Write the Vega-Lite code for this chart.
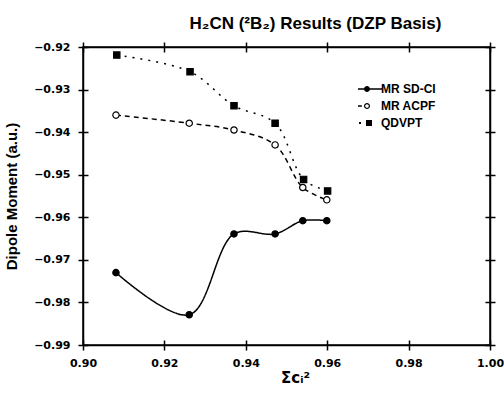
{
  "$schema": "https://vega.github.io/schema/vega-lite/v6.json",
  "width": 407,
  "height": 298,
  "autosize": "none",
  "padding": {"left": 83, "top": 47, "right": 14, "bottom": 48},
  "background": "white",
  "title": {
    "text": "H₂CN (²B₂) Results (DZP Basis)",
    "font": "Liberation Sans",
    "fontSize": 17,
    "fontWeight": "bold",
    "color": "black",
    "offset": 8,
    "dx": 29
  },
  "data": {
    "values": [
      {"s": "MR  SD-CI", "x": 0.9081, "y": -0.9730},
      {"s": "MR  SD-CI", "x": 0.9261, "y": -0.9829},
      {"s": "MR  SD-CI", "x": 0.9371, "y": -0.9639},
      {"s": "MR  SD-CI", "x": 0.9472, "y": -0.9639},
      {"s": "MR  SD-CI", "x": 0.9540, "y": -0.9608},
      {"s": "MR  SD-CI", "x": 0.9599, "y": -0.9608},
      {"s": "MR ACPF", "x": 0.9081, "y": -0.9360},
      {"s": "MR ACPF", "x": 0.9261, "y": -0.9379},
      {"s": "MR ACPF", "x": 0.9371, "y": -0.9395},
      {"s": "MR ACPF", "x": 0.9472, "y": -0.9430},
      {"s": "MR ACPF", "x": 0.9540, "y": -0.9530},
      {"s": "MR ACPF", "x": 0.9599, "y": -0.9559},
      {"s": "QDVPT", "x": 0.9083, "y": -0.9219},
      {"s": "QDVPT", "x": 0.9263, "y": -0.9258},
      {"s": "QDVPT", "x": 0.9371, "y": -0.9338},
      {"s": "QDVPT", "x": 0.9472, "y": -0.9379},
      {"s": "QDVPT", "x": 0.9542, "y": -0.9511},
      {"s": "QDVPT", "x": 0.9601, "y": -0.9538}
    ]
  },
  "config": {
    "view": {"stroke": "black", "strokeWidth": 1.5},
    "axis": {
      "labelFont": "DejaVu Sans",
      "labelFontWeight": "bold",
      "labelFontSize": 11,
      "labelColor": "black",
      "labelFlush": false,
      "titleFont": "Liberation Sans",
      "titleFontWeight": "bold",
      "titleColor": "black",
      "domainColor": "black",
      "domainWidth": 1.5,
      "tickColor": "black",
      "tickWidth": 1.5,
      "grid": false
    }
  },
  "resolve": {"axis": {"x": "independent", "y": "independent"}, "scale": {"shape": "independent"}},
  "layer": [
    {
      "mark": {"type": "line", "interpolate": "catmull-rom", "color": "black", "strokeWidth": 1.5},
      "encoding": {
        "x": {
          "field": "x", "type": "quantitative",
          "scale": {"domain": [0.9, 1.0], "nice": false, "zero": false},
          "axis": {"title": "Σcᵢ²", "titleFontSize": 15, "titleFont": "DejaVu Sans", "titleX": 212, "values": [0.9, 0.92, 0.94, 0.96, 0.98, 1.0], "format": ".2f", "tickSize": 5, "labelPadding": 7, "titlePadding": 2}
        },
        "y": {
          "field": "y", "type": "quantitative",
          "scale": {"domain": [-0.99, -0.92], "nice": false, "zero": false},
          "axis": {"title": "Dipole Moment (a.u.)", "titleFontSize": 15, "values": [-0.99, -0.98, -0.97, -0.96, -0.95, -0.94, -0.93, -0.92], "format": ".2f", "tickSize": 5, "labelPadding": 8, "titlePadding": 14}
        },
        "detail": {"field": "s"},
        "strokeDash": {
          "field": "s", "type": "nominal",
          "scale": {"domain": ["MR  SD-CI", "MR ACPF", "QDVPT"], "range": [[1, 0], [5, 4], [2, 6]]},
          "legend": null
        }
      }
    },
    {
      "mark": {"type": "point", "color": "black", "strokeWidth": 1.2, "opacity": 1},
      "encoding": {
        "x": {"field": "x", "type": "quantitative", "axis": {"orient": "top", "labels": false, "title": null, "values": [0.9, 0.92, 0.94, 0.96, 0.98, 1.0], "tickSize": 5}},
        "y": {"field": "y", "type": "quantitative", "axis": {"orient": "right", "labels": false, "title": null, "values": [-0.99, -0.98, -0.97, -0.96, -0.95, -0.94, -0.93, -0.92], "tickSize": 5}},
        "shape": {
          "field": "s", "type": "nominal",
          "scale": {"domain": ["MR  SD-CI", "MR ACPF", "QDVPT"], "range": ["circle", "circle", "square"]},
          "legend": null
        },
        "fill": {
          "field": "s", "type": "nominal",
          "scale": {"domain": ["MR  SD-CI", "MR ACPF", "QDVPT"], "range": ["black", "white", "black"]},
          "legend": null
        },
        "size": {"value": 40}
      }
    },
    {
      "mark": {"type": "point", "opacity": 0, "filled": true, "color": "black"},
      "encoding": {
        "x": {"field": "x", "type": "quantitative", "axis": {"orient": "bottom", "labels": false, "title": null, "domain": false, "values": [0.9, 0.92, 0.94, 0.96, 0.98, 1.0], "tickSize": -5}},
        "y": {"field": "y", "type": "quantitative", "axis": {"orient": "left", "labels": false, "title": null, "domain": false, "values": [-0.99, -0.98, -0.97, -0.96, -0.95, -0.94, -0.93, -0.92], "tickSize": -5}},
        "shape": {
          "field": "s", "type": "nominal",
          "sort": "ascending",
          "scale": {"range": [
            "M-2,-0.12H2V0.12H-2Z M0,0A0.5,0.5,0,1,1,-1,0A0.5,0.5,0,1,1,0,0Z",
            "M-2,-0.12H-1.35V0.12H-2Z M0,0A0.5,0.5,0,1,1,-1,0A0.5,0.5,0,1,1,0,0Z M-0.2,0A0.3,0.3,0,1,0,-0.8,0A0.3,0.3,0,1,0,-0.2,0Z",
            "M-1.83,-0.15H-1.5V0.15H-1.83Z M-0.67,-0.5H0.33V0.5H-0.67Z"
          ]},
          "legend": {
            "title": null,
            "orient": "none",
            "legendX": 281,
            "legendY": 36,
            "labelFont": "Liberation Sans",
            "labelFontWeight": "bold",
            "labelFontSize": 12,
            "labelColor": "black",
            "rowPadding": 5,
            "symbolSize": 144,
            "labelOffset": 5,
            "symbolOpacity": 1,
            "symbolFillColor": "black",
            "symbolStrokeColor": "black",
            "symbolStrokeWidth": 0
          }
        }
      }
    },
    {
      "mark": {"type": "point", "opacity": 0},
      "encoding": {
        "x": {"field": "x", "type": "quantitative", "axis": {"orient": "top", "labels": false, "title": null, "domain": false, "values": [0.9, 0.92, 0.94, 0.96, 0.98, 1.0], "tickSize": -5}},
        "y": {"field": "y", "type": "quantitative", "axis": {"orient": "right", "labels": false, "title": null, "domain": false, "values": [-0.99, -0.98, -0.97, -0.96, -0.95, -0.94, -0.93, -0.92], "tickSize": -5}}
      }
    }
  ]
}
